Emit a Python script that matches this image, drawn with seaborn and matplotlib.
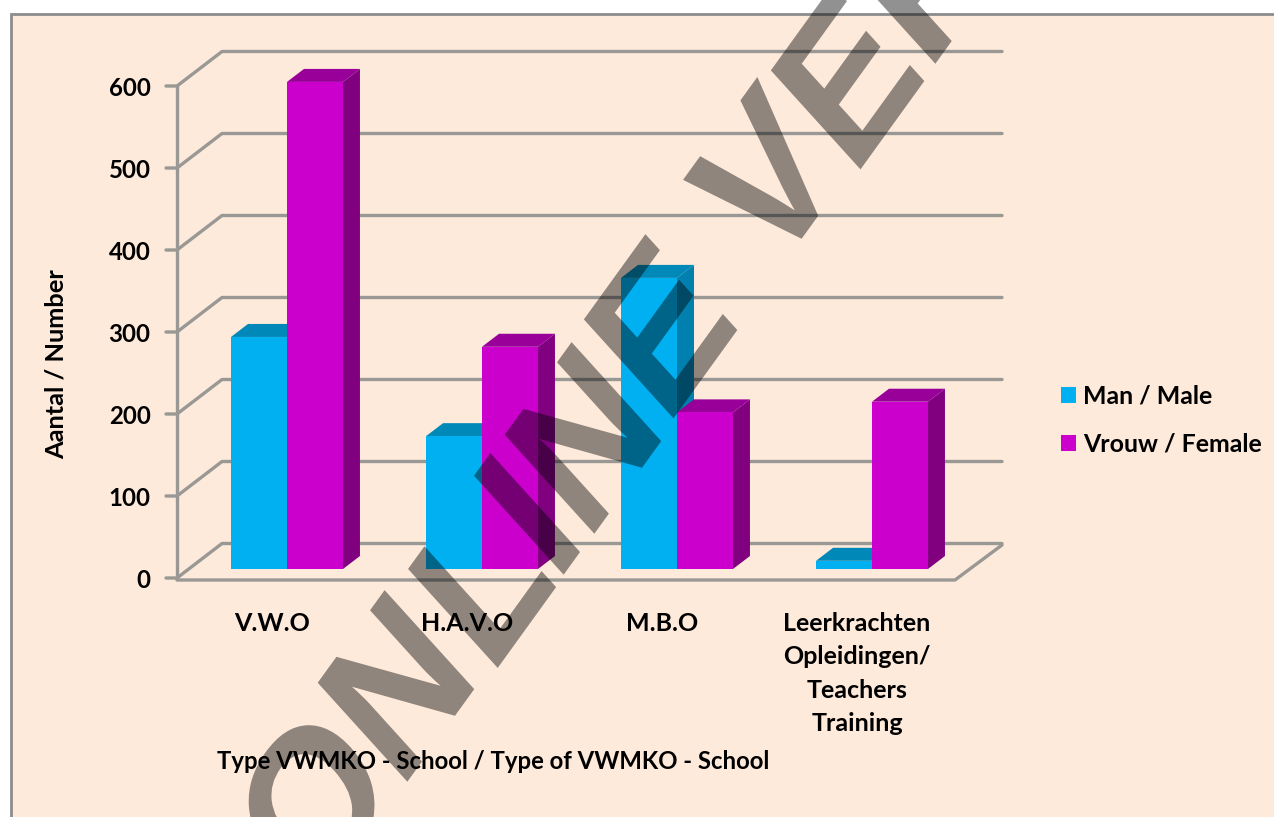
# -*- coding: utf-8 -*-
import pandas as pd
import matplotlib
matplotlib.use("Agg")
import matplotlib.pyplot as plt
import seaborn as sns
from matplotlib.patches import Polygon, Rectangle
from matplotlib.lines import Line2D
from matplotlib.patheffects import AbstractPathEffect
from matplotlib.transforms import Affine2D, ScaledTranslation

schools = ["V.W.O", "H.A.V.O", "M.B.O", "Leerkrachten\nOpleidingen/\nTeachers\nTraining"]
male = [283, 162, 355, 10]
female = [594, 271, 191, 204]
y_ticks = [0, 100, 200, 300, 400, 500, 600]
series_names = ["Man / Male", "Vrouw / Female"]

W, H = 1274, 817
BG = "#FDEADA"
GRID = "#9A9894"
BLUE, BLUE_SIDE, BLUE_TOP = "#00B0F0", "#0080AE", "#0088B8"
PINK, PINK_SIDE, PINK_TOP = "#CC00CC", "#800080", "#990099"

sns.set_theme(style="white")
plt.rcParams["font.family"] = ["Lato", "DejaVu Sans"]
plt.rcParams["font.weight"] = "bold"

df = pd.DataFrame({
    "school": schools * 2,
    "aantal": male + female,
    "geslacht": [series_names[0]] * 4 + [series_names[1]] * 4,
})

fig = plt.figure(figsize=(W / 100, H / 100), dpi=100, facecolor="white")
# pixel box of the front plane: y=0 at 569, 600 at 77
ax = fig.add_axes([189.5 / W, (H - 569) / H, 780 / W, 492 / H])
ax.patch.set_visible(False)

# chart area with its grey frame, it runs off the right and bottom edges
fig.add_artist(Rectangle((10.5 / W, -0.05), 1.1, (H - 14) / H + 0.05, transform=fig.transFigure,
                         facecolor=BG, edgecolor="#8C8C8C", linewidth=2, zorder=-5))

sns.barplot(data=df, x="school", y="aantal", hue="geslacht", palette=[BLUE, PINK],
            width=0.574, gap=0, saturation=1, ax=ax, legend=True, zorder=3)
ax.set_xlim(-0.5, 3.5)
ax.set_ylim(0, 600)
for s in ax.spines.values():
    s.set_visible(False)


def px(x, y):
    return (x, H - y)


# walls, back grid and floor, all in screen pixels
DPY_FRONT = 9
DPY_BACK = -25.5
for t in y_ticks:
    y0 = ax.transData.transform((0, t))[1]
    front = H - y0 + DPY_FRONT
    back = H - y0 + DPY_BACK
    ax.add_line(Line2D([166, 177, 222, 1002], [H - front, H - front, H - back, H - back],
                       transform=None, color=GRID, lw=2.4, zorder=1, clip_on=False))
ax.add_line(Line2D([177, 177], [H - 578, H - 86], transform=None, color=GRID, lw=2.4, zorder=1, clip_on=False))
ax.add_line(Line2D([177, 955, 1002], [H - 580, H - 580, H - 545], transform=None,
                   color=GRID, lw=2.4, zorder=1, clip_on=False))

# depth of the bars
DX, DY = 17, 13
z = 3
for bars, side, top in zip(ax.containers, [BLUE_SIDE, PINK_SIDE], [BLUE_TOP, PINK_TOP]):
    for bar in bars:
        x0, y0 = ax.transData.transform((bar.get_x(), 0))
        x1, y1 = ax.transData.transform((bar.get_x() + bar.get_width(), bar.get_height()))
        ax.add_patch(Polygon([(x1, y0), (x1 + DX, y0 + DY), (x1 + DX, y1 + DY), (x1, y1)],
                             transform=None, facecolor=side, edgecolor="none", zorder=z, clip_on=False))
        ax.add_patch(Polygon([(x0, y1), (x0 + DX, y1 + DY), (x1 + DX, y1 + DY), (x1, y1)],
                             transform=None, facecolor=top, edgecolor="none", zorder=z, clip_on=False))
        bar.set_zorder(z + 0.5)
        bar.set_linewidth(0)
    z += 1

# labels sit 15 px left of the bars and 9 px lower, as the 3D chart draws them
ax.set_yticks(y_ticks)
ax.set_yticklabels([str(t) for t in y_ticks], fontsize=17.3, fontweight="bold", color="black")
ax.tick_params(axis="y", length=0, pad=28)
ax.tick_params(axis="x", length=0, pad=31)
ax.set_xticks(range(4))
ax.set_xticklabels(schools, fontsize=18, fontweight="bold", color="black", linespacing=1.54)
for lab in ax.get_yticklabels():
    lab.set_transform(lab.get_transform() + ScaledTranslation(0, -9 / 100, fig.dpi_scale_trans))
for lab in ax.get_xticklabels():
    lab.set_transform(lab.get_transform() + ScaledTranslation(-15 / 100, 0, fig.dpi_scale_trans))

ax.set_xlabel("Type VWMKO - School / Type of VWMKO - School", fontsize=17.2, fontweight="bold", color="black")
ax.xaxis.set_label_coords(493 / W, (H - 750) / H, transform=fig.transFigure)
ax.set_ylabel("Aantal / Number", fontsize=18.3, fontweight="bold", color="black")
ax.yaxis.set_label_coords(68 / W, (H - 364) / H, transform=fig.transFigure)

leg = ax.legend(loc="center left", bbox_to_anchor=(1061 / W, (H - 420) / H), bbox_transform=fig.transFigure,
                frameon=False, title=None, fontsize=17.9, handlelength=0.6, handleheight=0.6,
                handletextpad=0.3, labelspacing=1.0, borderpad=0, borderaxespad=0)
for t in leg.get_texts():
    t.set_color("black")
for h in leg.legend_handles:
    h.set_linewidth(0)


# the watermark is skewed, so a plain rotation is not enough
class Skewed(AbstractPathEffect):
    def __init__(self, cx, cy):
        super().__init__()
        self.aff = (Affine2D().translate(-cx, -cy)
                    + Affine2D.from_values(0.585, 0.81, -0.67, 0.74, 0, 0)
                    + Affine2D().translate(cx, cy))

    def draw_path(self, renderer, gc, tpath, affine, rgbFace=None):
        renderer.draw_path(gc, tpath, affine + self.aff, rgbFace)


wm_letters = ["O", "N", "L", "I", "N", "E", "V", "E", "R"]
wm_x = [323, 407, 491, 538, 594, 670, 776, 857, 935]
wm_y = [815, 698, 593, 526, 450, 339, 190, 90, -20]
for ch, wx, wy in zip(wm_letters, wm_x, wm_y):
    cx, cy = px(wx, wy)
    fig.text(cx / W, cy / H, ch, fontsize=140, family="Liberation Sans", fontweight="bold",
             color="black", alpha=0.43, ha="center", va="center", zorder=20,
             path_effects=[Skewed(cx, cy)])

fig.savefig("out.png", dpi=100)
